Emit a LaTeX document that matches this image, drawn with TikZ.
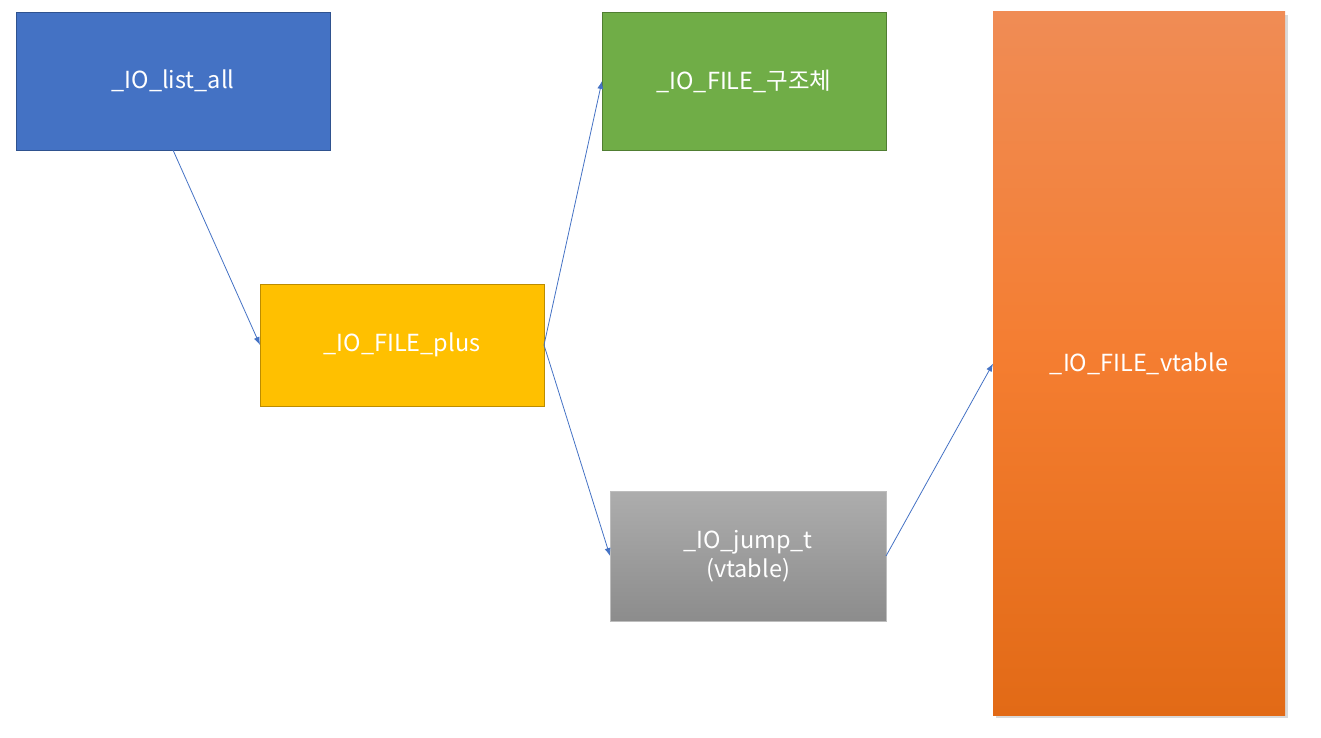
\documentclass[tikz,border=0pt]{standalone}
\usepackage{fontspec}
\setmainfont{Noto Sans CJK KR}
\usepackage{xcolor}
\usepackage{tikz}
\usetikzlibrary{arrows.meta, positioning, shadows}

\definecolor{listblue}{HTML}{4472C4}
\definecolor{listblueedge}{HTML}{2F528F}
\definecolor{plusgold}{HTML}{FFC000}
\definecolor{plusgoldedge}{HTML}{BC8C00}
\definecolor{structgreen}{HTML}{70AD47}
\definecolor{structgreenedge}{HTML}{507E32}
\definecolor{jumptop}{HTML}{ADADAD}
\definecolor{jumpbot}{HTML}{8C8C8C}
\definecolor{vtop}{HTML}{F08C55}
\definecolor{vmid}{HTML}{F47D30}
\definecolor{vbot}{HTML}{E26A16}

\tikzset{
  box/.style={rectangle, inner sep=0pt, outer sep=0pt, text=white, align=center,
              font=\fontsize{23.5}{29}\selectfont, line width=0.8pt},
  arrow/.style={-{Latex[length=8pt, width=6pt]}, draw=listblue, line width=0.8pt},
}

\begin{document}
\begin{tikzpicture}[x=1pt, y=1pt]

\useasboundingbox (0,0) rectangle (1321,-738);

% ── left column ──────────────────────────────────────────────────────────────
\node[box, draw=listblueedge, fill=listblue, anchor=north west,
      minimum width=314pt, minimum height=138pt] (listall) at (16,-12)
  {\_IO\_list\_all};

\node[box, draw=plusgoldedge, fill=plusgold,
      minimum width=284pt, minimum height=122pt,
      below right=134pt and 244pt of listall.south west] (fileplus)
  {\_IO\_FILE\_plus};

% ── middle column ────────────────────────────────────────────────────────────
\node[box, draw=structgreenedge, fill=structgreen,
      minimum width=284pt, minimum height=138pt,
      right=272pt of listall.north east, anchor=north west] (filestruct)
  {\_IO\_FILE\_구조체};

\node[box, draw=jumptop!80!white, top color=jumptop, bottom color=jumpbot,
      minimum width=276pt, minimum height=130pt,
      below right=85pt and 66pt of fileplus.south east] (jumpt)
  {\_IO\_jump\_t\\(vtable)};

% ── right column ─────────────────────────────────────────────────────────────
\node[box, top color=vtop, bottom color=vbot, middle color=vmid,
      drop shadow={opacity=0.3, shadow xshift=3pt, shadow yshift=-3pt},
      minimum width=292pt, minimum height=703pt,
      right=107pt of filestruct.north east, anchor=north west] (vtable)
  {\_IO\_FILE\_vtable};

% ── connectors ───────────────────────────────────────────────────────────────
\draw[arrow] (listall.south) -- (fileplus.west);
\draw[arrow] (fileplus.east) -- (filestruct.west);
\draw[arrow] (fileplus.east) -- (jumpt.west);
\draw[arrow] (jumpt.east) -- (vtable.west);

\end{tikzpicture}
\end{document}
